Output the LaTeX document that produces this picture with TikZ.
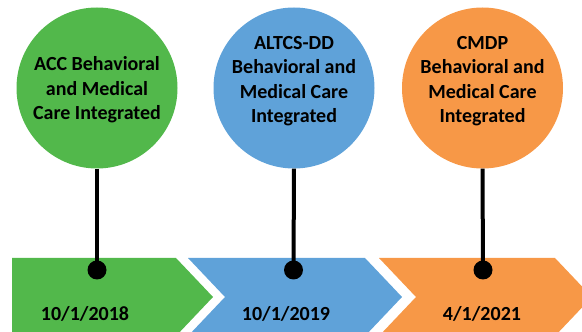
\documentclass[tikz,border=0pt]{standalone}
\usepackage{fontspec}
\setmainfont{Carlito}
\definecolor{accgreen}{HTML}{52B84B}
\definecolor{ddblue}{HTML}{5FA2D9}
\definecolor{cmdporange}{HTML}{F79847}
\tikzset{
	bubble/.style={circle, minimum size=161pt, inner sep=0pt},
	bubbletext/.style={align=center, font=\bfseries\fontsize{20}{24.5}\selectfont},
	datetext/.style={anchor=base, font=\bfseries\fontsize{20}{24}\selectfont},
	stemline/.style={line width=4pt},
	stemdot/.style={circle, fill=black, minimum size=19pt, inner sep=0pt}
}
\begin{document}
\begin{tikzpicture}[x=1pt, y=1pt]
		\useasboundingbox (0,0) rectangle (582,332);
		\clip (0,0) rectangle (582,332);

		\fill[accgreen] (12,74) -- (176,74) -- (213,35) -- (176,-4) -- (12,-4) -- cycle;
		\fill[ddblue] (188,74) -- (365,74) -- (402,35) -- (365,-4) -- (188,-4) -- (225,35) -- cycle;
		\fill[cmdporange] (379,74) -- (555,74) -- (592,35) -- (555,-4) -- (379,-4) -- (416,35) -- cycle;

		\node[bubble, fill=accgreen] (acc) at (97,244) {};
		\node[bubble, fill=ddblue] (dd) at (294,244) {};
		\node[bubble, fill=cmdporange] (cmdp) at (482.5,244) {};

		\node[bubbletext] (acctext) at ([yshift=-2pt]acc.center) {ACC Behavioral\\and Medical\\Care Integrated};
		\node[bubbletext] (ddtext) at ([yshift=7pt]dd.center) {ALTCS-DD\\Behavioral and\\Medical Care\\Integrated};
		\node[bubbletext] (cmdptext) at ([yshift=7pt]cmdp.center) {CMDP\\Behavioral and\\Medical Care\\Integrated};

		\node[stemdot] (accdot) at (97,62) {};
		\node[stemdot] (dddot) at (293.5,62) {};
		\node[stemdot] (cmdpdot) at (483,62) {};

		\draw[stemline] (acc.south) -- (accdot.center);
		\draw[stemline] (dd.south) -- (dddot.center);
		\draw[stemline] (cmdp.south) -- (cmdpdot.center);

		\node[datetext] (accdate) at (85,11) {10/1/2018};
		\node[datetext] (dddate) at (286,11) {10/1/2019};
		\node[datetext] (cmdpdate) at (482,11) {4/1/2021};
	\end{tikzpicture}
\end{document}
